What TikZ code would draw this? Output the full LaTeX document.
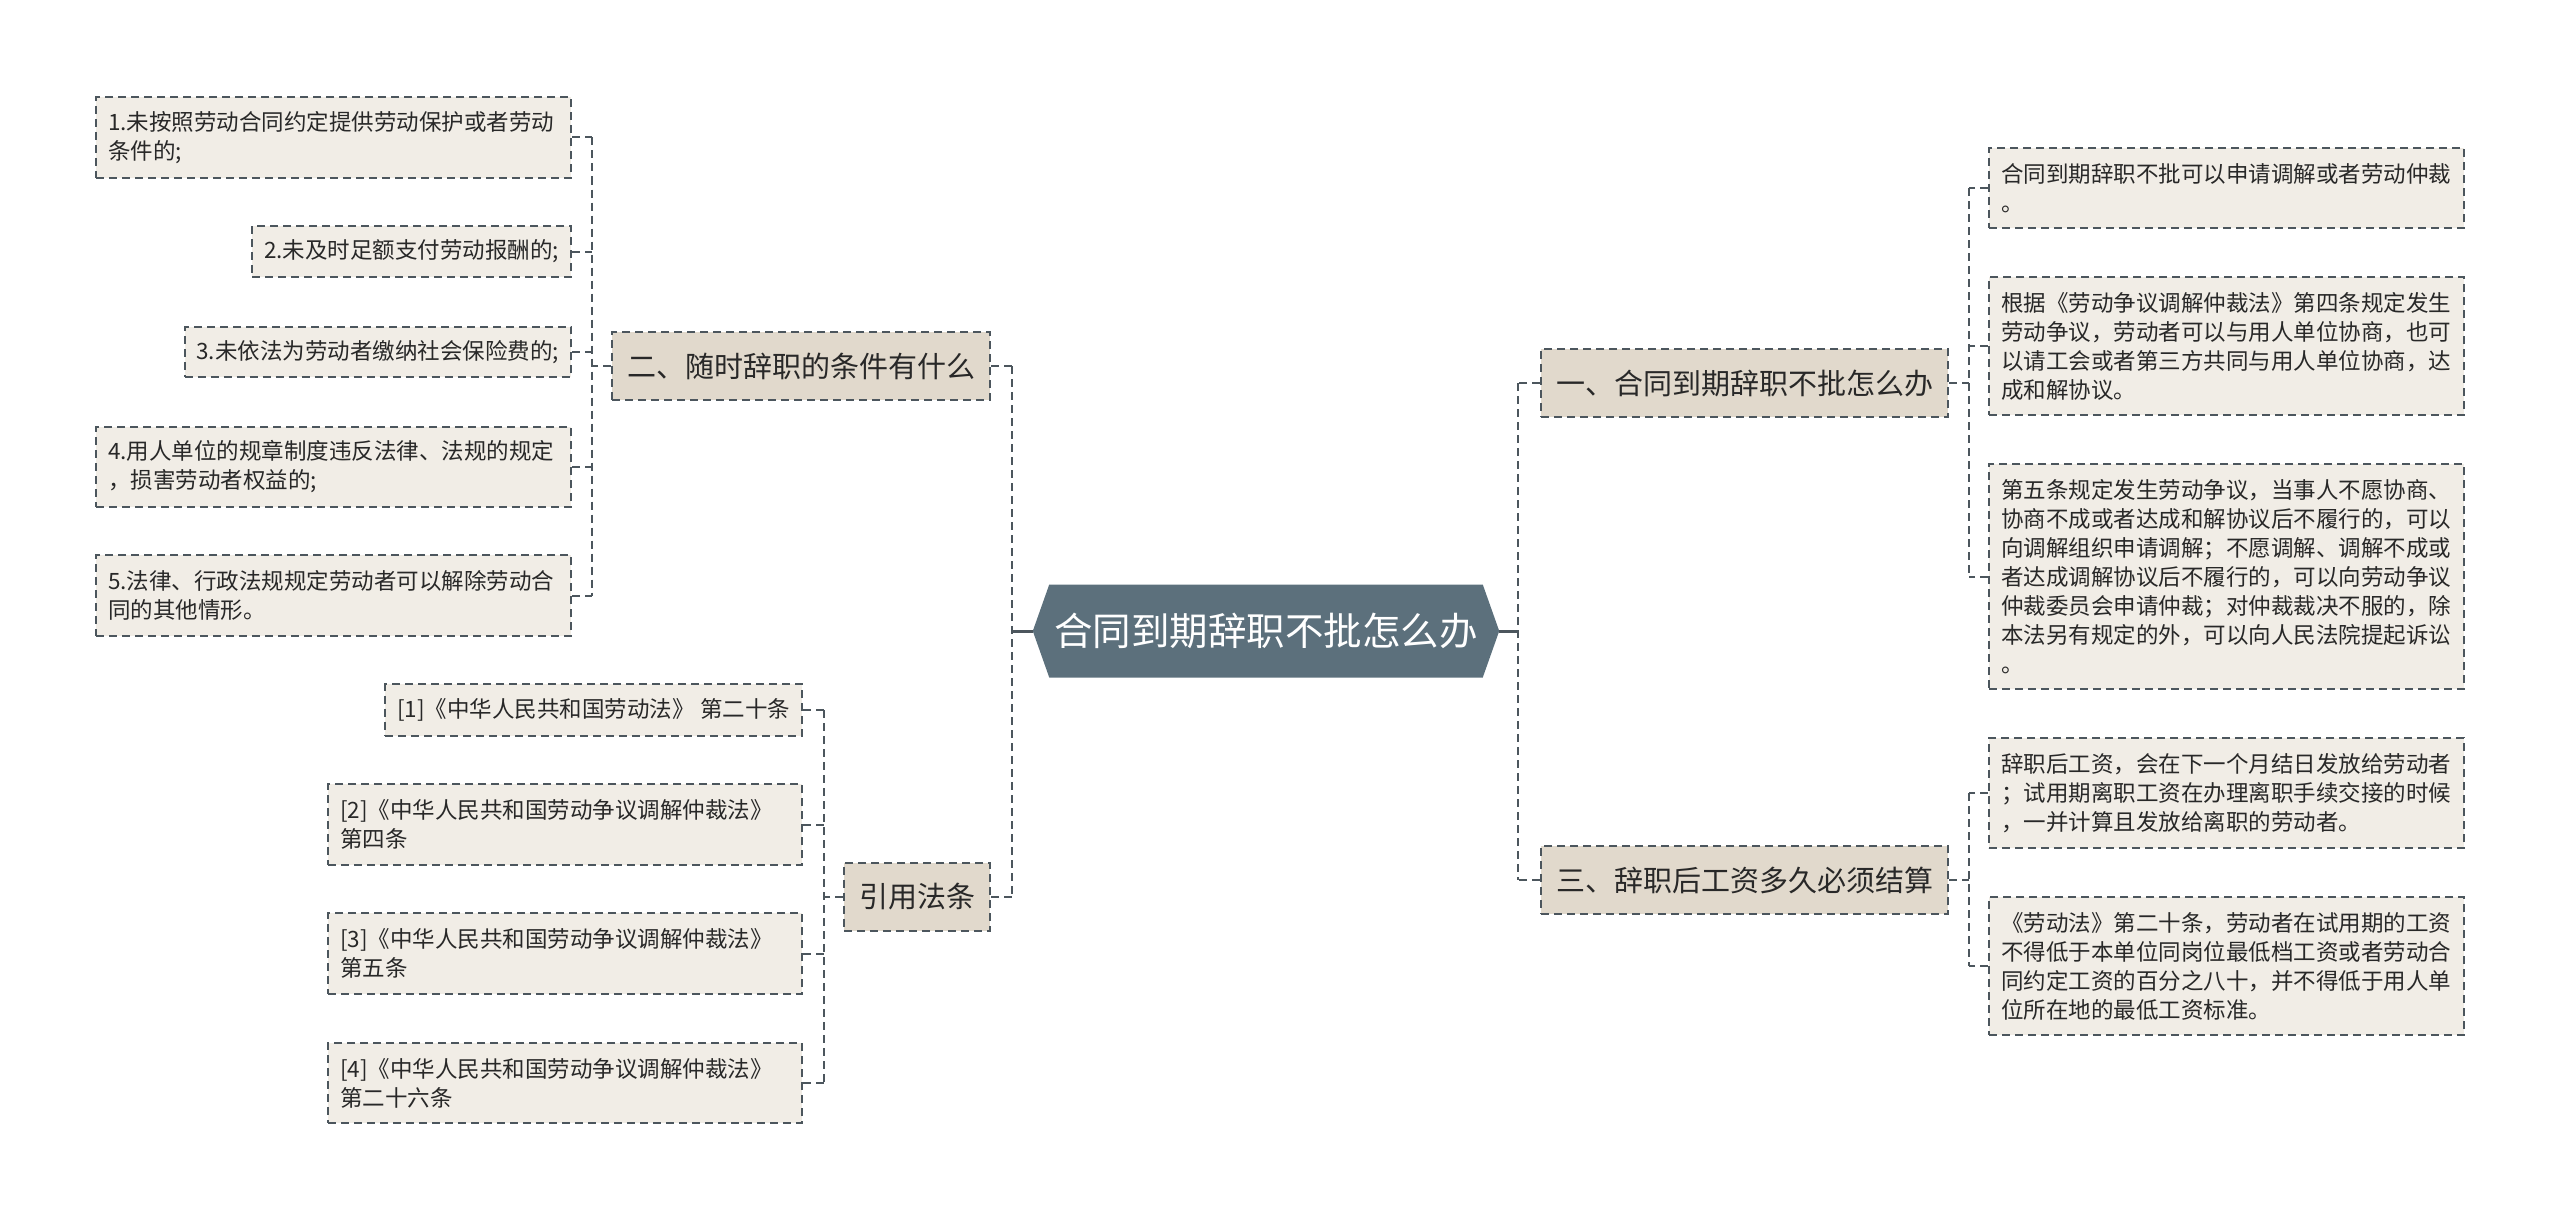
\documentclass[tikz,border=0pt]{standalone}
\usepackage{fontspec}
\setmainfont{Noto Sans CJK SC}
\usepackage{tikz}
\usetikzlibrary{shapes.symbols}
\definecolor{leaffill}{RGB}{241,237,230}
\definecolor{branchfill}{RGB}{225,217,204}
\definecolor{rootfill}{RGB}{92,112,124}
\definecolor{linecol}{RGB}{76,86,93}
\definecolor{textcol}{RGB}{40,40,40}
\tikzset{
  leaf/.style={draw=linecol, line width=2pt, dash pattern=on 8pt off 5pt, fill=leaffill,
    text=textcol, font=\fontsize{22.5pt}{29pt}\selectfont, inner xsep=12pt, inner ysep=4pt, align=left},
  branch/.style={draw=linecol, line width=2pt, dash pattern=on 8pt off 5pt, fill=branchfill,
    text=textcol, font=\fontsize{29pt}{35pt}\selectfont, inner xsep=15pt, minimum height=68pt},
  rootbox/.style={shape=signal, signal to=west and east, signal pointer angle=141, fill=rootfill,
    text=white, font=\fontsize{38.5pt}{44pt}\selectfont, inner xsep=5pt, minimum height=93pt},
  link/.style={draw=linecol, line width=2pt, dash pattern=on 8pt off 5pt},
  rootlink/.style={draw=linecol, line width=3pt}
}
\begin{document}
\begin{tikzpicture}[x=1pt,y=-1pt]
        \useasboundingbox (0,0) rectangle (2560,1220);

        % 中心
        \node[rootbox] (root) at (1266,631) {合同到期辞职不批怎么办};

        % 左侧分支
        \node[branch, anchor=east] (b2) at (991,366) {二、随时辞职的条件有什么};
        \node[branch, anchor=east] (b4) at (991,896.5) {引用法条};

        % 右侧分支
        \node[branch, anchor=west] (b1) at (1540,383) {一、合同到期辞职不批怎么办};
        \node[branch, anchor=west] (b3) at (1540,880) {三、辞职后工资多久必须结算};

        % 二 的条目
        \node[leaf, anchor=east, text width=451pt, minimum height=81pt] (c1) at (572,137.5)
          {1.未按照劳动合同约定提供劳动保护或者劳动\\条件的;};
        \node[leaf, anchor=east, minimum height=51pt] (c2) at (572,251.5) {2.未及时足额支付劳动报酬的;};
        \node[leaf, anchor=east, minimum height=50pt] (c3) at (572,352) {3.未依法为劳动者缴纳社会保险费的;};
        \node[leaf, anchor=east, text width=451pt, minimum height=80pt] (c4) at (572,467)
          {4.用人单位的规章制度违反法律、法规的规定\\，损害劳动者权益的;};
        \node[leaf, anchor=east, text width=451pt, minimum height=81pt] (c5) at (572,595.5)
          {5.法律、行政法规规定劳动者可以解除劳动合\\同的其他情形。};

        % 引用法条
        \node[leaf, anchor=east, minimum height=52pt] (k1) at (803,710) {[1]《中华人民共和国劳动法》 第二十条};
        \node[leaf, anchor=east, text width=450pt, minimum height=81pt] (k2) at (803,824.5)
          {[2]《中华人民共和国劳动争议调解仲裁法》\\第四条};
        \node[leaf, anchor=east, text width=450pt, minimum height=81pt] (k3) at (803,953.5)
          {[3]《中华人民共和国劳动争议调解仲裁法》\\第五条};
        \node[leaf, anchor=east, text width=450pt, minimum height=80pt] (k4) at (803,1083)
          {[4]《中华人民共和国劳动争议调解仲裁法》\\第二十六条};

        % 一 的条目
        \node[leaf, anchor=west, text width=451pt, minimum height=80pt] (r1) at (1988,188)
          {合同到期辞职不批可以申请调解或者劳动仲裁\\。};
        \node[leaf, anchor=west, text width=451pt, minimum height=138pt] (r2) at (1988,346)
          {根据《劳动争议调解仲裁法》第四条规定发生\\劳动争议，劳动者可以与用人单位协商，也可\\以请工会或者第三方共同与用人单位协商，达\\成和解协议。};
        \node[leaf, anchor=west, text width=451pt, minimum height=225pt] (r3) at (1988,576.5)
          {第五条规定发生劳动争议，当事人不愿协商、\\协商不成或者达成和解协议后不履行的，可以\\向调解组织申请调解；不愿调解、调解不成或\\者达成调解协议后不履行的，可以向劳动争议\\仲裁委员会申请仲裁；对仲裁裁决不服的，除\\本法另有规定的外，可以向人民法院提起诉讼\\。};

        % 三 的条目
        \node[leaf, anchor=west, text width=451pt, minimum height=110pt] (r4) at (1988,793)
          {辞职后工资，会在下一个月结日发放给劳动者\\；试用期离职工资在办理离职手续交接的时候\\，一并计算且发放给离职的劳动者。};
        \node[leaf, anchor=west, text width=451pt, minimum height=138pt] (r5) at (1988,966)
          {《劳动法》第二十条，劳动者在试用期的工资\\不得低于本单位同岗位最低档工资或者劳动合\\同约定工资的百分之八十，并不得低于用人单\\位所在地的最低工资标准。};

        % 干线
        \coordinate (tl) at (1012,0);
        \coordinate (tr) at (1518,0);
        \coordinate (t2) at (592,0);
        \coordinate (t4) at (824,0);
        \coordinate (t1) at (1969,0);

        \draw[rootlink] (root.west) -- (root.west -| tl);
        \draw[link] (b2.east -| tl) -- (b4.east -| tl);
        \draw[link] (b2.east) -- (b2.east -| tl);
        \draw[link] (b4.east) -- (b4.east -| tl);

        \draw[rootlink] (root.east) -- (root.east -| tr);
        \draw[link] (b1.west -| tr) -- (b3.west -| tr);
        \draw[link] (b1.west) -- (b1.west -| tr);
        \draw[link] (b3.west) -- (b3.west -| tr);

        \draw[link] (c1.east -| t2) -- (c5.east -| t2);
        \draw[link] (b2.west) -- (b2.west -| t2);
        \draw[link] (c1.east) -- (c1.east -| t2);
        \draw[link] (c2.east) -- (c2.east -| t2);
        \draw[link] (c3.east) -- (c3.east -| t2);
        \draw[link] (c4.east) -- (c4.east -| t2);
        \draw[link] (c5.east) -- (c5.east -| t2);

        \draw[link] (k1.east -| t4) -- (k4.east -| t4);
        \draw[link] (b4.west) -- (b4.west -| t4);
        \draw[link] (k1.east) -- (k1.east -| t4);
        \draw[link] (k2.east) -- (k2.east -| t4);
        \draw[link] (k3.east) -- (k3.east -| t4);
        \draw[link] (k4.east) -- (k4.east -| t4);

        \draw[link] (r1.west -| t1) -- (r3.west -| t1);
        \draw[link] (b1.east) -- (b1.east -| t1);
        \draw[link] (r1.west) -- (r1.west -| t1);
        \draw[link] (r2.west) -- (r2.west -| t1);
        \draw[link] (r3.west) -- (r3.west -| t1);

        \draw[link] (r4.west -| t1) -- (r5.west -| t1);
        \draw[link] (b3.east) -- (b3.east -| t1);
        \draw[link] (r4.west) -- (r4.west -| t1);
        \draw[link] (r5.west) -- (r5.west -| t1);
    \end{tikzpicture}
\end{document}
